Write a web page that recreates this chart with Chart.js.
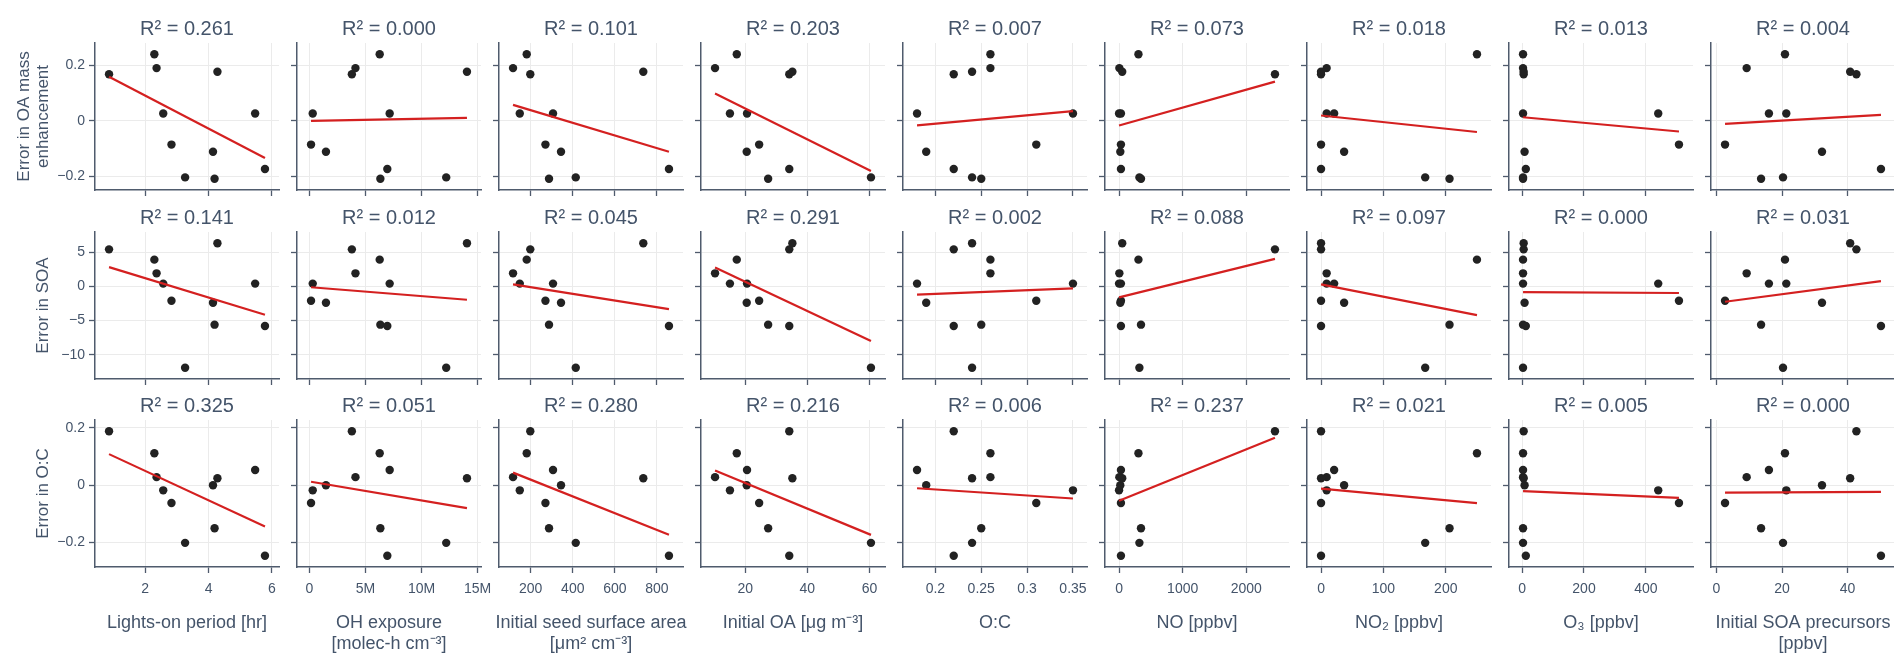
<!DOCTYPE html>
<html>
<head>
<meta charset="utf-8">
<title>Model error vs. experimental conditions</title>
<script src="https://cdn.jsdelivr.net/npm/chart.js@4.4.1/dist/chart.umd.min.js"></script>
<style>
  html, body { margin: 0; padding: 0; background: #ffffff; }
  #grid { position: relative; width: 1894px; height: 658px; overflow: hidden; }
  #grid canvas { position: absolute; }
</style>
</head>
<body>
<div id="grid"></div>
<script>
// ---- Experimental conditions (11 chamber experiments, same order in every array) ----
const lightsOnHr      = [0.86, 2.29, 2.36, 2.57, 2.83, 3.26, 4.14, 4.19, 4.28, 5.47, 5.78];
const ohExposure      = [3.79e6, 6.27e6, 4.11e6, 0.30e6, 0.15e6, 12.2e6, 1.48e6, 6.33e6, 14.05e6, 7.16e6, 6.95e6];
const seedSurfaceArea = [198, 181, 116, 148, 270, 414, 344, 287, 735, 306, 857];
const initialOA       = [34.2, 17.3, 10.3, 15.1, 24.5, 60.5, 20.5, 27.4, 35.2, 20.6, 34.2];
const initialOtoC     = [0.22, 0.26, 0.26, 0.35, 0.31, 0.24, 0.19, 0.25, 0.24, 0.18, 0.22];
const noPpbv          = [2450, 305, 5, 0, 30, 320, 20, 345, 50, 30, 30];
const no2Ppbv         = [0, 250, 9, 9, 0, 167, 37, 206, 0, 21, 0];
const o3Ppbv          = [5, 3, 3, 440, 507, 3, 8, 3, 5, 3, 12];
const soaPrecursors   = [42.7, 20.9, 9.2, 21.3, 2.6, 20.3, 32.2, 13.6, 40.8, 16.0, 50.2];

// ---- Model errors for the same experiments ----
const errOAEnhancement = [0.168, 0.240, 0.190, 0.027, -0.085, -0.203, -0.111, -0.208, 0.177, 0.027, -0.173];
const errSOA           = [5.4, 3.9, 1.9, 0.4, -2.1, -11.9, -2.4, -5.6, 6.3, 0.4, -5.8];
const errOtoC          = [0.188, 0.111, 0.028, -0.018, -0.062, -0.201, 0.000, -0.150, 0.024, 0.053, -0.246];

// ---- R² printed above each panel, one list per error row ----
const r2OAEnhancement = ['0.261', '0.000', '0.101', '0.203', '0.007', '0.073', '0.018', '0.013', '0.004'];
const r2SOA           = ['0.141', '0.012', '0.045', '0.291', '0.002', '0.088', '0.097', '0.000', '0.031'];
const r2OtoC          = ['0.325', '0.051', '0.280', '0.216', '0.006', '0.237', '0.021', '0.005', '0.000'];

// ---- Tick values / labels ----
const lightsOnTicks        = [2, 4, 6];
const ohExposureTicks      = [0, 5e6, 10e6, 15e6];
const ohExposureTickLabels = ['0', '5M', '10M', '15M'];
const seedTicks            = [200, 400, 600, 800];
const initialOATicks       = [20, 40, 60];
const otoCTicks            = [0.2, 0.25, 0.3, 0.35];
const noTicks              = [0, 1000, 2000];
const no2Ticks             = [0, 100, 200];
const o3Ticks              = [0, 200, 400];
const precursorTicks       = [0, 20, 40];
const errOATicks           = [-0.2, 0, 0.2];
const errSOATicks          = [-10, -5, 0, 5];
const errOtoCTicks         = [-0.2, 0, 0.2];

// ---- Panel definitions ----
const columns = [
  { values: lightsOnHr,      ticks: lightsOnTicks,  title: ['Lights-on period [hr]'] },
  { values: ohExposure,      ticks: ohExposureTicks, tickLabels: ohExposureTickLabels, title: ['OH exposure', '[molec-h cm\u207B\u00B3]'] },
  { values: seedSurfaceArea, ticks: seedTicks,      title: ['Initial seed surface area', '[\u03BCm\u00B2 cm\u207B\u00B3]'] },
  { values: initialOA,       ticks: initialOATicks, title: ['Initial OA [\u03BCg m\u207B\u00B3]'] },
  { values: initialOtoC,     ticks: otoCTicks,      title: ['O:C'] },
  { values: noPpbv,          ticks: noTicks,        title: ['NO [ppbv]'] },
  { values: no2Ppbv,         ticks: no2Ticks,       title: ['NO\u2082 [ppbv]'] },
  { values: o3Ppbv,          ticks: o3Ticks,        title: ['O\u2083 [ppbv]'] },
  { values: soaPrecursors,   ticks: precursorTicks, title: ['Initial SOA precursors', '[ppbv]'] }
];
const rows = [
  { values: errOAEnhancement, ticks: errOATicks,   r2: r2OAEnhancement, title: ['Error in OA mass', 'enhancement'] },
  { values: errSOA,           ticks: errSOATicks,  r2: r2SOA,           title: ['Error in SOA'] },
  { values: errOtoC,          ticks: errOtoCTicks, r2: r2OtoC,          title: ['Error in O:C'] }
];

// ---- Styling ----
const FONT = "'Liberation Sans', Arial, Helvetica, sans-serif";
const TEXT_COLOR = '#44546a';
const AXIS_COLOR = '#4f5b6d';
const GRID_COLOR = '#ebebeb';
const POINT_COLOR = '#222222';
const FIT_COLOR = '#d42020';

// ---- Layout (pixels) ----
const PLOT_W = 184, PLOT_H = 147;
const colLeft = c => Math.round(95.3 + 201.9 * c);
const rowTop = r => Math.round(43 + 188.5 * r);

// Axis range: data extent plus a margin on both sides
function paddedRange(vals) {
  const lo = Math.min(...vals), hi = Math.max(...vals);
  const pad = (hi - lo) * 0.09;
  return [lo - pad, hi + pad];
}

// Ordinary least-squares line spanning the data extent
function fitLine(xs, ys) {
  const n = xs.length;
  const mx = xs.reduce((a, b) => a + b, 0) / n;
  const my = ys.reduce((a, b) => a + b, 0) / n;
  let sxy = 0, sxx = 0;
  for (let i = 0; i < n; i++) { sxy += (xs[i] - mx) * (ys[i] - my); sxx += (xs[i] - mx) ** 2; }
  const slope = sxy / sxx, icpt = my - slope * mx;
  const x0 = Math.min(...xs), x1 = Math.max(...xs);
  return [{ x: x0, y: icpt + slope * x0 }, { x: x1, y: icpt + slope * x1 }];
}

const fmtTick = v => String(v).replace('-', '\u2212');

// Panel heading, x-axis title (bottom row) and y-axis title (first column)
const panelText = {
  id: 'panelText',
  afterDraw(chart, args, opts) {
    const { ctx, chartArea: a } = chart;
    const cx = (a.left + a.right) / 2;
    ctx.save();
    ctx.fillStyle = TEXT_COLOR;
    ctx.textAlign = 'center';
    ctx.textBaseline = 'middle';
    ctx.font = '20px ' + FONT;
    ctx.fillText(opts.heading, cx, a.top - 14);
    if (opts.xTitle) {
      ctx.font = '18px ' + FONT;
      opts.xTitle.forEach((t, i) => ctx.fillText(t, cx, a.bottom + 56 + i * 21));
    }
    if (opts.yTitle) {
      ctx.font = '17px ' + FONT;
      const cy = (a.top + a.bottom) / 2;
      const n = opts.yTitle.length;
      opts.yTitle.forEach((t, i) => {
        ctx.save();
        ctx.translate(a.left - 52 - (n - 1 - i) * 19, cy);
        ctx.rotate(-Math.PI / 2);
        ctx.fillText(t, 0, 0);
        ctx.restore();
      });
    }
    ctx.restore();
  }
};

Chart.defaults.font.family = FONT;
Chart.defaults.color = TEXT_COLOR;

const host = document.getElementById('grid');

rows.forEach((row, r) => {
  columns.forEach((col, c) => {
    const isBottom = r === rows.length - 1, isFirst = c === 0;
    const ML = 110, MR = 26, MT = 46, MB = isBottom ? 96 : 24;
    // axis boxes hold the tick marks, plus the tick labels where they are shown
    const YW = isFirst ? 60 : 8;
    const XH = isBottom ? 40 : 8;
    const cv = document.createElement('canvas');
    cv.width = ML + PLOT_W + MR;
    cv.height = MT + PLOT_H + MB;
    cv.style.left = (colLeft(c) - ML) + 'px';
    cv.style.top = (rowTop(r) - MT) + 'px';
    host.appendChild(cv);

    const points = col.values.map((x, i) => ({ x, y: row.values[i] }));
    const [xMin, xMax] = paddedRange(col.values);
    const [yMin, yMax] = paddedRange(row.values);

    new Chart(cv, {
      type: 'scatter',
      data: {
        datasets: [
          { data: points, pointRadius: 4.2, pointHoverRadius: 4.2, pointBackgroundColor: POINT_COLOR,
            pointBorderWidth: 0, order: 2 },
          { data: fitLine(col.values, row.values), showLine: true, borderColor: FIT_COLOR, borderWidth: 2.2,
            pointRadius: 0, fill: false, order: 1 }
        ]
      },
      options: {
        responsive: false,
        animation: false,
        events: [],
        layout: { padding: { left: ML - YW, right: MR, top: MT, bottom: MB - XH } },
        plugins: {
          legend: { display: false },
          tooltip: { enabled: false },
          panelText: {
            heading: 'R\u00B2 = ' + row.r2[c],
            xTitle: isBottom ? col.title : null,
            yTitle: isFirst ? row.title : null
          }
        },
        scales: {
          x: {
            type: 'linear', min: xMin, max: xMax,
            afterBuildTicks: s => { s.ticks = col.ticks.map(v => ({ value: v })); },
            afterFit: s => { s.height = XH; },
            grid: { color: GRID_COLOR, lineWidth: 1, drawTicks: true, tickLength: 6, tickColor: AXIS_COLOR, tickWidth: 1.3 },
            border: { display: true, color: AXIS_COLOR, width: 1.5 },
            ticks: {
              display: isBottom, autoSkip: false, maxRotation: 0, padding: 8,
              font: { size: 14 }, color: TEXT_COLOR,
              callback: (v, i) => col.tickLabels ? col.tickLabels[i] : fmtTick(col.ticks[i])
            }
          },
          y: {
            type: 'linear', min: yMin, max: yMax,
            afterBuildTicks: s => { s.ticks = row.ticks.map(v => ({ value: v })); },
            afterFit: s => { s.width = YW; },
            grid: { color: GRID_COLOR, lineWidth: 1, drawTicks: true, tickLength: 6, tickColor: AXIS_COLOR, tickWidth: 1.3 },
            border: { display: true, color: AXIS_COLOR, width: 1.5 },
            ticks: {
              display: isFirst, autoSkip: false, padding: 4,
              font: { size: 14 }, color: TEXT_COLOR,
              callback: (v, i) => fmtTick(row.ticks[i])
            }
          }
        }
      },
      plugins: [panelText]
    });
  });
});
</script>
</body>
</html>
